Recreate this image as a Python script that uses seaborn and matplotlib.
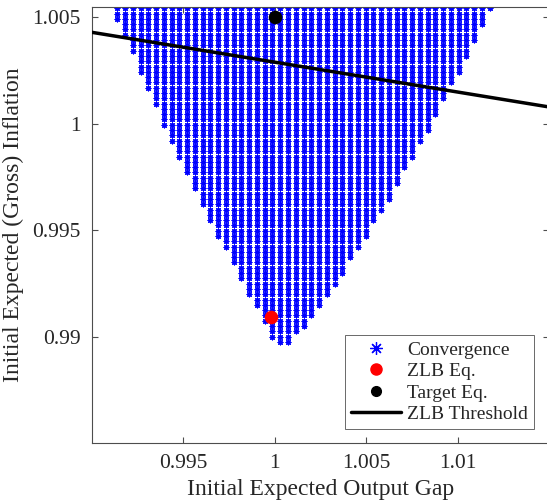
import numpy as np
import pandas as pd
import matplotlib
matplotlib.use("Agg")
import matplotlib.pyplot as plt
from matplotlib.lines import Line2D
import seaborn as sns

# grid of initial expectations (output gap columns, inflation rows)
gap_first, gap_last, n_gap = 0.99139, 1.01173, 49
infl_first, infl_step, n_infl = 0.98975, 0.0002489, 64

# lowest converging inflation row for each output-gap column
lowest_row = [61, 58, 55, 51, 48, 45, 41, 38, 35, 32, 29, 26, 23, 20, 18, 15, 12,
              9, 7, 4, 1, 0, 0, 2, 3, 5, 7, 9, 11, 13, 16, 18, 20, 23, 25, 27,
              30, 33, 35, 38, 40, 43, 46, 49, 51, 54, 57, 60, 63]

zlb_eq = (0.99976, 0.99093)
target_eq = (1.0, 1.005)
thr_gap = [0.99, 1.015]
thr_infl = [1.0043, 1.00079]

gap_cols = np.linspace(gap_first, gap_last, n_gap)
rows = []
for g, lo in zip(gap_cols, lowest_row):
    for i in range(lo, n_infl):
        rows.append((g, infl_first + i * infl_step))
conv = pd.DataFrame(rows, columns=["gap", "infl"])

sns.set_style("ticks")
plt.rcParams["font.family"] = ["Liberation Serif", "DejaVu Serif"]
plt.rcParams["axes.edgecolor"] = "0.3"
plt.rcParams["xtick.color"] = "0.3"
plt.rcParams["ytick.color"] = "0.3"

fig = plt.figure(figsize=(5.47, 5.04), dpi=100)
ax = fig.add_axes([92 / 547, 61 / 504, 457.4 / 547, 436.2 / 504])

sns.scatterplot(data=conv, x="gap", y="infl", marker=(8, 2, 0), color="blue",
                s=12, linewidth=0.85, ax=ax, legend=False, zorder=2)
sns.lineplot(x=thr_gap, y=thr_infl, color="black", linewidth=2.5, ax=ax, zorder=3)
sns.scatterplot(x=[zlb_eq[0]], y=[zlb_eq[1]], color="red", s=95, linewidth=0,
                ax=ax, legend=False, zorder=4)
sns.scatterplot(x=[target_eq[0]], y=[target_eq[1]], color="black", s=95, linewidth=0,
                ax=ax, legend=False, zorder=4)

ax.set_xlim(0.99, 1.015)
ax.set_ylim(0.985, 1.0055)
ax.set_xticks([0.995, 1.0, 1.005, 1.01])
ax.set_xticklabels(["0.995", "1", "1.005", "1.01"])
ax.set_yticks([0.99, 0.995, 1.0, 1.005])
ax.set_yticklabels(["0.99", "0.995", "1", "1.005"])
ax.tick_params(direction="in", length=4, width=0.8, top=True, right=True,
               labelsize=15.5, labelcolor="#262626", pad=8)
for sp in ax.spines.values():
    sp.set_visible(True)
    sp.set_linewidth(0.8)

ax.set_xlabel("Initial Expected Output Gap", fontsize=17, color="#262626", labelpad=4)
ax.set_ylabel("Initial Expected (Gross) Inflation", fontsize=17, color="#262626", labelpad=6)

handles = [
    Line2D([], [], linestyle="none", marker=(8, 2, 0), color="blue", markersize=9,
           markeredgewidth=0.9),
    Line2D([], [], linestyle="none", marker="o", color="red", markersize=8),
    Line2D([], [], linestyle="none", marker="o", color="black", markersize=7),
    Line2D([], [], color="black", linewidth=2.5),
]
labels = ["Convergence", "ZLB Eq.", "Target Eq.", "ZLB Threshold"]
leg = ax.legend(handles, labels, loc="lower right", bbox_to_anchor=(0.966, 0.032),
                borderaxespad=0, fontsize=14, frameon=True, fancybox=False,
                handlelength=2.6, handletextpad=0.3, labelspacing=0.2,
                borderpad=0.3, edgecolor="#262626")
leg.get_frame().set_linewidth(0.6)
for t in leg.get_texts():
    t.set_color("#262626")

fig.savefig("out.png", dpi=100)
